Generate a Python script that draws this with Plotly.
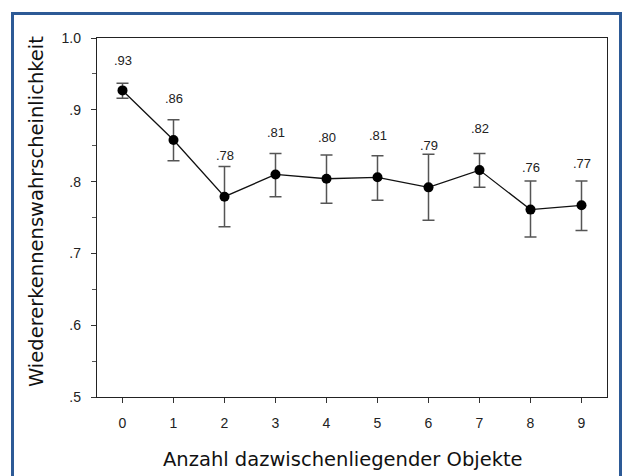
import plotly.graph_objects as go

# Recognition probability by number of intervening objects
n_between = [0, 1, 2, 3, 4, 5, 6, 7, 8, 9]
mean_prob = [0.927, 0.858, 0.779, 0.810, 0.804, 0.806, 0.792, 0.816, 0.761, 0.767]
upper_ci = [0.937, 0.886, 0.821, 0.839, 0.837, 0.836, 0.838, 0.839, 0.801, 0.801]
lower_ci = [0.916, 0.829, 0.737, 0.779, 0.770, 0.774, 0.746, 0.792, 0.723, 0.732]

y_ticks = [0.5, 0.6, 0.7, 0.8, 0.9, 1.0]
y_tick_text = [".5", ".6", ".7", ".8", ".9", "1.0"]

W, H = 625, 476
M = dict(l=97, r=18, t=38, b=79)
PW = W - M["l"] - M["r"]
PH = H - M["t"] - M["b"]


def px_x(p):
    return (p - M["l"]) / PW


def px_y(p):
    return (H - M["b"] - p) / PH


err_plus = [u - m for u, m in zip(upper_ci, mean_prob)]
err_minus = [m - l for m, l in zip(mean_prob, lower_ci)]

fig = go.Figure()
fig.add_trace(go.Scatter(
    x=n_between, y=mean_prob, mode="lines+markers",
    line=dict(color="#111111", width=1.3),
    marker=dict(color="#000000", size=10),
    error_y=dict(type="data", symmetric=False, array=err_plus, arrayminus=err_minus,
                 color="#555555", thickness=1.5, width=6),
    showlegend=False, cliponaxis=False,
))

# value labels above each point
for x, m in zip(n_between, mean_prob):
    label = f"{m:.2f}".lstrip("0")
    fig.add_annotation(x=x, y=min(m + 0.058, 0.968), text=label, showarrow=False,
                       font=dict(family="Liberation Sans, Arial", size=13, color="#222222"),
                       xanchor="center", yanchor="middle")

# axis titles
title_font = dict(family="DejaVu Sans, Verdana", size=19.5, color="#111111")
fig.add_annotation(xref="paper", yref="paper", x=px_x(36), y=px_y(212),
                   text="Wiedererkennenswahrscheinlichkeit", textangle=-90, showarrow=False,
                   font=title_font, xanchor="center", yanchor="middle")
fig.add_annotation(xref="paper", yref="paper", x=px_x(343), y=px_y(459),
                   text="Anzahl dazwischenliegender Objekte", showarrow=False,
                   font=title_font, xanchor="center", yanchor="middle")

# blue frame around the figure
fig.add_shape(type="rect", xref="paper", yref="paper",
              x0=px_x(12.5), x1=px_x(620.5), y0=px_y(490), y1=px_y(13.5),
              line=dict(color="#2d5a96", width=3), fillcolor="rgba(0,0,0,0)", layer="below")

fig.update_layout(
    width=W, height=H, margin=M,
    paper_bgcolor="white", plot_bgcolor="white",
    font=dict(family="Liberation Sans, Arial", size=14, color="#222222"),
)
fig.update_xaxes(
    range=[-0.5, 9.5], tickvals=n_between, ticktext=[str(v) for v in n_between],
    showgrid=False, zeroline=False, showline=True, linecolor="#222222", linewidth=1.3,
    mirror=True, ticks="outside", ticklen=5, tickcolor="#333333", ticklabelstandoff=8,
    tickfont=dict(size=14),
)
fig.update_yaxes(
    range=[0.5, 1.0], tickvals=y_ticks, ticktext=y_tick_text,
    showgrid=False, zeroline=False, showline=True, linecolor="#222222", linewidth=1.3,
    mirror=True, ticks="outside", ticklen=5, tickcolor="#333333", ticklabelstandoff=7,
    tickfont=dict(size=14),
    minor=dict(dtick=0.05, ticks="outside", ticklen=4, tickcolor="#555555", showgrid=False),
)

fig.write_html("out.html")
